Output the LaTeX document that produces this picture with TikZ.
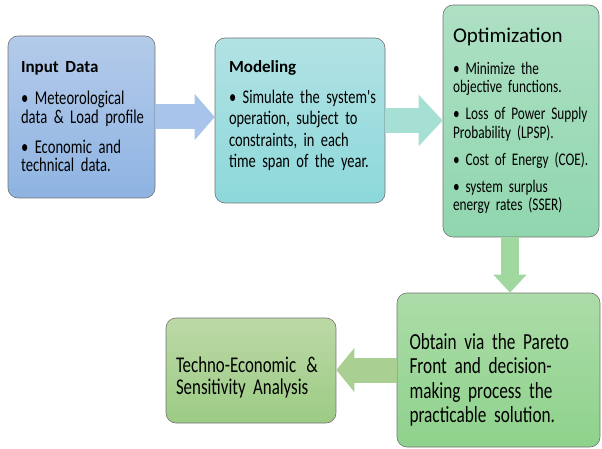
\documentclass[tikz,border=0pt]{standalone}
\usepackage{fontspec}
\setmainfont{Carlito}
\newfontfamily\bodyfont{Carlito}[FakeStretch=0.75]
\usetikzlibrary{arrows.meta}
\hyphenpenalty=10000
\definecolor{inTop}{HTML}{B4CBEA}\definecolor{inBot}{HTML}{8EB3E2}
\definecolor{modTop}{HTML}{B2E2E4}\definecolor{modBot}{HTML}{8CD8DA}
\definecolor{optTop}{HTML}{AEE0C4}\definecolor{optBot}{HTML}{90D6AE}
\definecolor{parTop}{HTML}{ACDCA8}\definecolor{parBot}{HTML}{8ED28C}
\definecolor{teaTop}{HTML}{BCD9A6}\definecolor{teaBot}{HTML}{9CCB84}
\definecolor{arrIn}{HTML}{A8C4EA}\definecolor{arrMod}{HTML}{A6E0D4}
\definecolor{arrOpt}{HTML}{A0D8A0}\definecolor{arrPar}{HTML}{AACF92}
\newcommand{\boxtitle}[1]{{\normalfont\fontsize{17}{20}\selectfont\bfseries #1}}
\newcommand{\deep}[1]{\rule[-#1]{0pt}{#1}}
\tikzset{
  box/.style={draw=black!55,line width=0.6pt,rounded corners=10pt,
    align=left,inner sep=0pt},
  blockarrow/.style={line width=25pt,
    -{Triangle[length=20pt,width=45pt]}},
}
\begin{document}
\begin{tikzpicture}[x=1pt,y=-1pt]
\useasboundingbox (0,0) rectangle (602,449);

\node[box,top color=inTop,bottom color=inBot,minimum width=147pt,minimum height=162pt,text width=121pt,
  font=\bodyfont\fontsize{19.5}{18.5}\selectfont]
  (in) at (81.5,117) {\boxtitle{Input Data}\\[13.5pt]
  \mbox{• Meteorological}\\ \mbox{data \& Load profile}\\[11.5pt]
  \mbox{• Economic and}\\ \mbox{technical data.}};
\node[box,top color=modTop,bottom color=modBot,minimum width=170pt,minimum height=165pt,text width=142pt,
  font=\bodyfont\fontsize{19.3}{21.5}\selectfont]
  (model) at (300,120.5) {\boxtitle{Modeling}\\[9pt]
  \mbox{• Simulate the system's}\\ \mbox{operation, subject to}\\ \mbox{constraints, in each}\\ \mbox{time span of the year.}\deep{12pt}};
\node[box,top color=optTop,bottom color=optBot,minimum width=156pt,minimum height=232pt,text width=136pt,
  font=\bodyfont\fontsize{17.7}{18.5}\selectfont]
  (opt) at (521,121) {{\normalfont\fontsize{21}{24}\selectfont Optimization}\\[13pt]
  • Minimize the\\ objective functions.\\[8.5pt]
  • Loss of Power Supply\\ Probability (LPSP).\\[8.5pt]
  • Cost of Energy (COE).\\[8.5pt]
  • system surplus\\ energy rates (SSER)};
\node[box,top color=parTop,bottom color=parBot,minimum width=203pt,minimum height=154pt,text width=178pt,
  font=\bodyfont\fontsize{23}{24.5}\selectfont]
  (pareto) at (498.5,370) {\rule{0pt}{36pt}Obtain via the Pareto\\ Front and decision-\\ making process the\\ practicable solution.};
\node[box,top color=teaTop,bottom color=teaBot,minimum width=170pt,minimum height=105pt,text width=150pt,
  font=\bodyfont\fontsize{22.5}{22}\selectfont]
  (tea) at (251,370.5) {\rule{0pt}{30pt}Techno-Economic\hspace{0.45em}\&\\ Sensitivity Analysis};

\draw[blockarrow,arrIn] (in.east) -- (in.east -| model.west);
\draw[blockarrow,arrMod,-{Triangle[length=24pt,width=50pt]}] (model.east) -- (model.east -| opt.west);
\draw[blockarrow,arrOpt,line width=18pt,-{Triangle[length=18pt,width=32pt]}]
  ([xshift=-11pt]opt.south) -- ([xshift=11.5pt]pareto.north);
\draw[blockarrow,arrPar,-{Triangle[length=18pt,width=43pt]}] (pareto.west) -- (pareto.west -| tea.east);

\end{tikzpicture}
\end{document}
